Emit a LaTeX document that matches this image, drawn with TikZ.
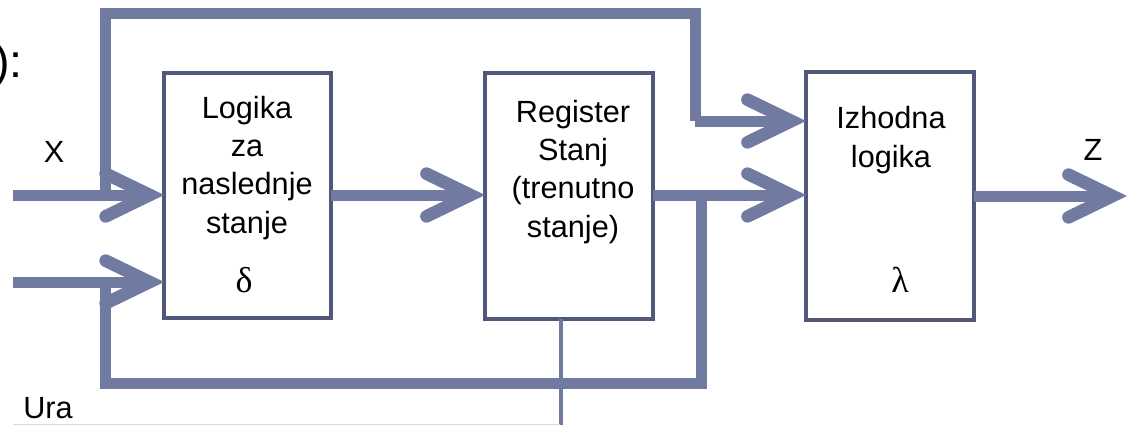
\documentclass[tikz,border=0pt]{standalone}
\usepackage{fontspec}
\setmainfont{Liberation Sans}
\newfontfamily\grk{Liberation Serif}
\usetikzlibrary{arrows.meta}
\definecolor{flowc}{RGB}{113,123,161}
\definecolor{boxc}{RGB}{82,88,122}
\begin{document}
\begin{tikzpicture}[x=0.75pt,y=-0.75pt,
  flow/.style={draw=flowc,line width=8.25pt,line join=miter},
  arr/.style={-{Straight Barb[length=33pt,width=32pt,line width=9.5pt,line cap=round,line join=miter]}},
  blok/.style={draw=boxc,line width=3pt,fill=white,inner sep=0pt,outer sep=0pt},
  lbl/.style={inner sep=0pt,font=\fontsize{23}{28.75}\selectfont,align=center},
  grkl/.style={inner sep=0pt,font=\grk\fontsize{27}{30}\selectfont},
  clk/.style={draw=flowc,line width=3pt}]
\useasboundingbox (0,0) rectangle (1128,425);
\clip (0,0) rectangle (1128,425);
% boxes
\node[blok,minimum width=125pt,minimum height=184pt] (b1) at (247.5,195.5) {};
\node[blok,minimum width=126pt,minimum height=184.5pt] (b2) at (569,195.5) {};
\node[blok,minimum width=126pt,minimum height=186pt] (b3) at (890,196) {};
% coordinates
\coordinate (xin) at (13,195);
\coordinate (uin) at (13,282);
\coordinate (jx) at (105,195);
\coordinate (tl) at (105,13);
\coordinate (tr) at (695,13);
\coordinate (js) at (701,195);
\coordinate (bl) at (105,383);
\coordinate (zout) at (1127,196);
\coordinate (ura) at (561,425);
% clock
\draw[clk] (ura |- b2.south) -- (ura);
% X input and branch over the top
\draw[flow] (jx) -- (tl) -- (tr) -- (tr |- 0,121);
\draw[flow,arr] (tr |- 0,121) -- (b3.west |- 0,121);
\draw[flow,arr] (xin) -- (xin -| b1.west);
% state feedback
\draw[flow] (js) -- (js |- bl) -- (bl) -- (bl |- uin);
\draw[flow,arr] (uin) -- (uin -| b1.west);
\draw[flow,arr] (b1.east |- 0,195) -- (b2.west |- 0,195);
\draw[flow,arr] (b2.east |- 0,195) -- (b3.west |- 0,195);
\draw[flow,arr] (b3.east |- zout) -- (zout);
% texts
\node[lbl,anchor=base] (t1) at (247,233) {Logika\\za\\naslednje\\stanje};
\node[grkl,anchor=base] (d1) at (244,292) {δ};
\node[lbl,anchor=base] (t2) at (573,237) {Register\\Stanj\\(trenutno\\stanje)};
\node[lbl,anchor=base] (t3) at (891,167) {Izhodna\\logika};
\node[grkl,anchor=base] (l3) at (900,292) {λ};
\node[lbl,anchor=base] (lx) at (54,162) {X};
\node[lbl,anchor=base] (lz) at (1093,160) {Z};
\node[lbl,anchor=base west] (lu) at (23,418) {Ura};
\node[inner sep=0pt,anchor=base east,font=\fontsize{35}{40}\selectfont] (tt) at (23,77) {):};
\draw[black!15,line width=0.75pt] (13,424) -- (560,424);
\end{tikzpicture}
\end{document}
